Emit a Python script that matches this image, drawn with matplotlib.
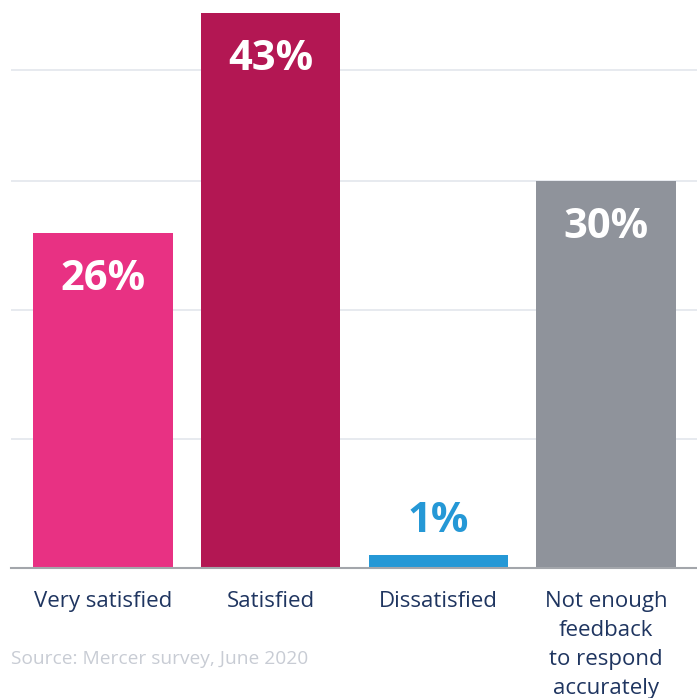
import matplotlib.pyplot as plt

categories = ["Very satisfied", "Satisfied", "Dissatisfied", "Not enough\nfeedback\nto respond\naccurately"]
values = [26, 43, 1, 30]
labels = ["26%", "43%", "1%", "30%"]
colors = ["#e83183", "#b31753", "#2598d6", "#8f939b"]
grid_levels = [10, 20, 30, 38.6]

plt.rcParams["font.family"] = ["Open Sans", "DejaVu Sans"]

fig = plt.figure(figsize=(6.97, 6.98), dpi=100)
ax = fig.add_axes([11 / 697, 1 - 568 / 698, 1 - 11 / 697, 568 / 698])

x = list(range(len(values)))
ax.bar(x, values, width=0.833, color=colors, zorder=2)

for xi, v, lab in zip(x, values, labels):
    if v > 5:
        ax.text(xi, v - 3.6, lab, ha="center", va="center", color="white",
                fontsize=30, fontweight="bold", zorder=3)
    else:
        ax.text(xi, v + 2.6, lab, ha="center", va="center", color=colors[xi],
                fontsize=30, fontweight="bold", zorder=3)

ax.set_xlim(-0.548, 3.542)
ax.set_ylim(0, 44.03)
ax.set_yticks(grid_levels)
ax.yaxis.grid(True, color="#e3e6ec", linewidth=1.2, zorder=0)
ax.tick_params(axis="y", left=False, labelleft=False)
ax.tick_params(axis="x", bottom=False, pad=13)
ax.set_xticks(x, categories, fontsize=16, color="#1f3560")
for lbl in ax.get_xticklabels():
    lbl.set_linespacing(1.5)
    lbl.set_verticalalignment("top")

for s in ["top", "right", "left"]:
    ax.spines[s].set_visible(False)
ax.spines["bottom"].set_color("#a3a6ab")
ax.spines["bottom"].set_linewidth(1.5)
ax.spines["bottom"].set_zorder(4)

fig.text(11 / 697, 1 - 659 / 698, "Source: Mercer survey, June 2020",
         ha="left", va="center", fontsize=13.8, color="#c8ccd4")

fig.savefig("out.png", dpi=100)
